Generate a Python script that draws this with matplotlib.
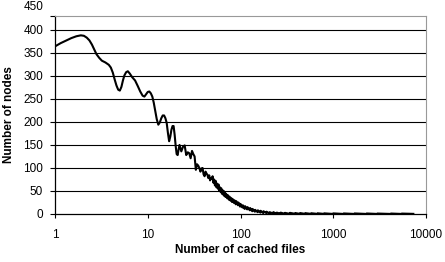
import matplotlib
matplotlib.use("Agg")
import matplotlib.pyplot as plt

plt.rcParams['font.family'] = ['Liberation Sans', 'DejaVu Sans']

# Curve (x = number of cached files, y = number of nodes)
cached_files = [1, 1.15, 1.3, 1.5, 1.7, 1.9, 2.05, 2.2, 2.35, 2.5, 2.65, 2.8, 3.0, 3.2, 3.5,
                3.8, 4.0, 4.2, 4.4, 4.6, 4.8, 5.0, 5.2, 5.4, 5.6, 5.85, 6.1, 6.4, 6.8, 7.3,
                7.8, 8.3, 8.8, 9.2, 9.6, 10.0, 10.4, 10.8, 11.2, 11.6, 12.0, 12.5, 13, 13.5,
                14, 14.5, 15, 15.5, 16, 16.5, 17, 17.5, 18, 18.5, 19, 19.5, 20, 20.5, 21,
                21.5, 22, 23, 24, 25, 26, 27, 28, 29, 30, 31, 32, 33, 34, 35, 36, 37, 38,
                39, 40, 41, 42, 43, 44, 45, 46, 47, 48, 49,
                50, 51, 52, 53, 54, 55, 56, 57, 58, 59, 60, 61, 62, 63, 64, 65, 66, 67,
                68, 69, 70, 72, 73, 75, 76, 78, 79, 81, 82, 85, 86, 89, 90, 94, 95, 99,
                100, 105, 106, 111, 112, 118, 119, 126, 127, 134, 135, 143, 144, 153,
                154, 164, 165, 176, 177, 190, 191, 205, 206, 225, 226, 245, 246, 270,
                271, 300, 301, 340, 341, 390, 391, 440, 441, 500, 501, 580, 581, 680,
                681, 800, 801, 1000, 1001, 1300, 1301, 1700, 1701, 2300, 2301, 3000,
                3001, 4200, 4201, 5500, 5501, 7300]
nodes = [364, 371, 376, 382, 386, 388, 387, 383, 377, 368, 357, 347, 339, 333, 329,
         324, 318, 307, 292, 279, 270, 268, 276, 290, 301, 308, 310, 305, 297, 290,
         278, 266, 257, 255, 260, 265, 266, 262, 255, 242, 226, 206, 194, 199,
         208, 214, 214, 208, 198, 176, 158, 168, 183, 191, 191, 172, 148, 130, 128,
         140, 150, 136, 146, 149, 128, 134, 132, 121, 137, 130, 125, 96, 108, 105, 100, 92, 99,
         100, 86, 82, 92, 88, 85, 78, 84, 73, 78, 76,
         82, 68, 75, 62, 72, 58, 66, 55, 64, 50, 58, 48, 56, 44, 52, 42, 50, 39,
         46, 37, 44, 34, 41, 31, 38, 29, 35, 26, 33, 24, 30, 21, 28, 19, 25, 16,
         22, 14, 19, 11, 17, 10, 15, 8, 13, 6, 11, 5, 9, 4,
         8, 3, 7, 2, 6, 2, 5, 1, 4, 1, 4, 0.5, 3, 0.5,
         3, 0.3, 2.5, 0.3, 2.5, 0.3, 2, 0.2, 2, 0.2, 1.8, 0.2, 1.6, 0.2,
         1.5, 0.2, 1.4, 0.1, 1.3, 0.1, 1.2, 0.1, 1.2, 0.1, 1.1, 0.1,
         1.0, 0.1, 1.0, 0.1, 0.9, 0.3]

y_ticks = [0, 50, 100, 150, 200, 250, 300, 350, 400]
x_ticks = [1, 10, 100, 1000, 10000]
x_tick_labels = ['1', '10', '100', '1000', '10000']

fig = plt.figure(figsize=(4.45, 2.62), dpi=100)
ax = fig.add_axes([55/445, 1-214/262, (426-55)/445, (214-16)/262])

ax.plot(cached_files, nodes, color='black', linewidth=1.5, solid_joinstyle='round')
ax.set_xscale('log')
ax.set_xlim(1, 10000)
ax.set_ylim(0, 430)

ax.set_yticks(y_ticks + [430])
ax.set_yticklabels([str(v) for v in y_ticks] + [''])
ax.annotate('450', xy=(0, 450), xycoords=('axes fraction', 'data'),
            xytext=(-8.5, 0), textcoords='offset points',
            ha='right', va='center', fontsize=8.5, annotation_clip=False)
ax.set_xticks(x_ticks)
ax.set_xticklabels(x_tick_labels)
ax.xaxis.set_minor_locator(matplotlib.ticker.NullLocator())

for v in y_ticks[1:]:
    ax.axhline(v, color='black', linewidth=0.8, zorder=1)

ax.tick_params(axis='y', direction='out', length=3.5, width=0.8, pad=5, labelsize=8.5)
ax.tick_params(axis='x', direction='out', length=3, width=0.8, pad=8, labelsize=8.5)

for side in ['top', 'right']:
    ax.spines[side].set_color('#999999')
    ax.spines[side].set_linewidth(0.8)
for side in ['left', 'bottom']:
    ax.spines[side].set_color('black')
    ax.spines[side].set_linewidth(0.9)

fig.text(240/445, 1-250/262, 'Number of cached files', ha='center', va='center',
         fontsize=8.5, fontweight='bold')
fig.text(9/445, 1-115/262, 'Number of nodes', ha='center', va='center',
         rotation=90, fontsize=8.5, fontweight='bold')

fig.savefig('out.png', dpi=100)
